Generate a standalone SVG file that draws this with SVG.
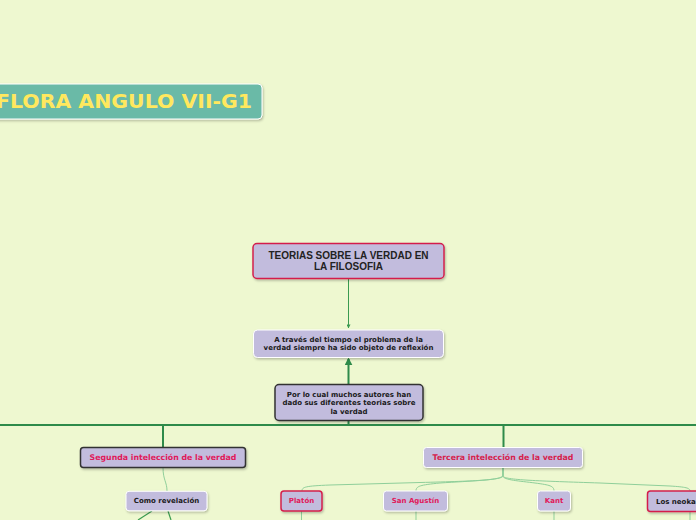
<svg xmlns="http://www.w3.org/2000/svg" width="696" height="520" viewBox="0 0 696 520">
<defs>
<marker id="ah" viewBox="0 0 10 10" refX="9" refY="5" markerWidth="4" markerHeight="4" orient="auto"><path d="M0,0 L10,5 L0,10 z" fill="#3a9b50"/></marker>
<marker id="ah2" viewBox="0 0 10 10" refX="8" refY="5" markerWidth="4" markerHeight="4" orient="auto"><path d="M0,0 L10,5 L0,10 z" fill="#2e8b4a"/></marker>
<filter id="sh" x="-10%" y="-20%" width="120%" height="150%"><feDropShadow dx="1" dy="1.5" stdDeviation="0.8" flood-color="#000" flood-opacity="0.25"/></filter>
</defs>
<style>
.n{fill:#c2bcdd;filter:url(#sh)}
.w{stroke:#ffffff;stroke-width:1}
.d{stroke:#333333;stroke-width:1.5}
.r{stroke:#d41f4c;stroke-width:1.5}
.s{font-family:"DejaVu Sans",Verdana,sans-serif;font-weight:bold;font-size:7px;fill:#1a1a1a;text-anchor:middle}
.p{font-family:"DejaVu Sans",Verdana,sans-serif;font-weight:bold;font-size:7.8px;fill:#e0195a;text-anchor:middle}
.lt{fill:none;stroke:#8fcf9a;stroke-width:1}
.dk{fill:none;stroke:#2e8b4a;stroke-width:2}
</style>
<rect width="696" height="520" fill="#eef8d0"/>
<g id="connectors">
<line x1="348.5" y1="278.5" x2="348.5" y2="328" stroke="#3a9b50" stroke-width="1" marker-end="url(#ah)"/>
<line x1="348.5" y1="384" x2="348.5" y2="359" stroke="#2e8b4a" stroke-width="2" marker-end="url(#ah2)"/>
<line x1="348.5" y1="421" x2="348.5" y2="425" class="dk"/>
<line x1="0" y1="425" x2="696" y2="425" class="dk"/>
<line x1="163" y1="425" x2="163" y2="447" class="dk" stroke-width="1.5"/>
<line x1="503.5" y1="425" x2="503.5" y2="447" class="dk" stroke-width="1.5"/>
<path class="lt" d="M163,467.5 C163,480 167,482 167,491"/>
<path class="lt" d="M503,468 L503,475 C503,480 480,481 420,482.5 L330,485 C305,486 302,487 302,491"/>
<path class="lt" d="M503,468 L503,476 C503,480 470,481 440,483 C420,485 416,486 416,491"/>
<path class="lt" d="M503,468 L503,476 C503,480 520,481 535,483 C550,485 554,486 554,491"/>
<path class="lt" d="M503,468 L503,476 C503,480 540,481 600,483 L670,486 C686,487 690,488 690,491"/>
<line class="lt" x1="301.5" y1="511" x2="301.5" y2="520"/>
<line class="lt" x1="416" y1="511" x2="416" y2="520"/>
<line class="lt" x1="554" y1="511" x2="554" y2="520"/>
<line class="lt" x1="690" y1="512" x2="690" y2="520"/>
<line x1="152" y1="511" x2="138" y2="520" stroke="#3a9b50" stroke-width="1.2"/>
<line x1="168" y1="511" x2="171" y2="520" stroke="#3a9b50" stroke-width="1.2"/>
</g>
<g id="title">
<rect x="-10" y="84" width="272" height="35" rx="4" fill="#6bbaa7" stroke="#ffffff" stroke-width="1" filter="url(#sh)"/>
<text x="-4" y="108" font-family="'DejaVu Sans',Verdana,sans-serif" font-weight="bold" font-size="20" fill="#ffe85e" textLength="256" lengthAdjust="spacingAndGlyphs">FLORA ANGULO VII-G1</text>
</g>
<g id="main">
<rect class="n r" x="253" y="243.5" width="191" height="35" rx="4"/>
<text x="348.5" y="259.3" font-family="'Liberation Sans',Arial,sans-serif" font-weight="bold" font-size="10" fill="#222" text-anchor="middle">TEORIAS SOBRE LA VERDAD EN</text>
<text x="348.5" y="270.3" font-family="'Liberation Sans',Arial,sans-serif" font-weight="bold" font-size="10" fill="#222" text-anchor="middle">LA FILOSOFIA</text>
</g>
<g id="tiempo">
<rect class="n w" x="253.5" y="330" width="190" height="27.5" rx="4"/>
<text class="s" x="348.5" y="342">A través del tiempo el problema de la</text>
<text class="s" x="348.5" y="350">verdad siempre ha sido objeto de reflexión</text>
</g>
<g id="autores">
<rect class="n d" x="275" y="384.5" width="148" height="36" rx="4"/>
<text class="s" x="349" y="397">Por lo cual muchos autores han</text>
<text class="s" x="349" y="405.3">dado sus diferentes teorias sobre</text>
<text class="s" x="349" y="413.8">la verdad</text>
</g>
<g id="segunda">
<rect class="n d" x="80.5" y="447.5" width="165" height="20" rx="3"/>
<text class="p" x="163" y="460">Segunda intelección de la verdad</text>
</g>
<g id="tercera">
<rect class="n w" x="423.5" y="447.5" width="159" height="20" rx="3"/>
<text class="p" x="503" y="460" fill="#d6224c" style="fill:#d6224c">Tercera intelección de la verdad</text>
</g>
<g id="revelacion">
<rect class="n w" x="126" y="491.3" width="81" height="19.5" rx="3"/>
<text class="s" x="166.5" y="503">Como revelación</text>
</g>
<g id="platon">
<rect class="n r" x="281" y="491" width="41" height="20" rx="3"/>
<text class="s" x="301.5" y="503" style="fill:#e0195a">Platón</text>
</g>
<g id="agustin">
<rect class="n w" x="383.5" y="491" width="64" height="20" rx="3"/>
<text class="s" x="415.5" y="503" style="fill:#e0195a">San Agustín</text>
</g>
<g id="kant">
<rect class="n w" x="537.5" y="491" width="33" height="20" rx="3"/>
<text class="s" x="554" y="503" style="fill:#e0195a">Kant</text>
</g>
<g id="neokantianos">
<rect class="n r" x="647.5" y="491" width="90" height="20.5" rx="3"/>
<text class="s" x="656" y="503.5" style="text-anchor:start">Los neokantianos</text>
</g>
</svg>
